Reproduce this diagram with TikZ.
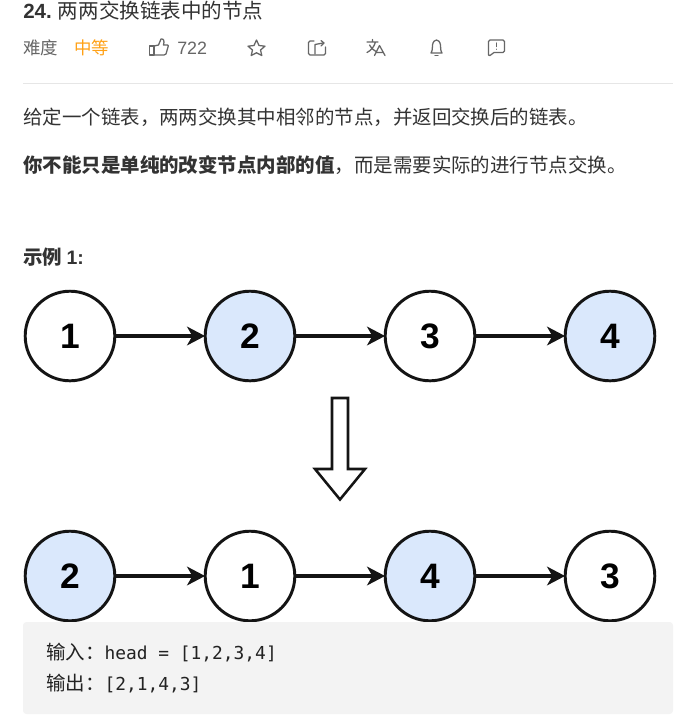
\documentclass[tikz,border=0pt]{standalone}
\usepackage{fontspec}
\setmainfont{Noto Sans CJK SC}
\newfontfamily\latinface{Liberation Sans}
\newfontfamily\codeface{DejaVu Sans Mono}
\usetikzlibrary{arrows.meta}
\definecolor{ink}{HTML}{333333}
\definecolor{codeink}{HTML}{222222}
\definecolor{muted}{HTML}{666666}
\definecolor{medal}{HTML}{FFA116}
\definecolor{rulegray}{HTML}{E6E6E6}
\definecolor{codebg}{HTML}{F3F3F3}
\definecolor{tint}{HTML}{DAE8FC}
\tikzset{
  x=0.75pt, y=-0.75pt,
  listnode/.style={circle, draw=black!92, line width=2.2pt, minimum size=67.2pt, inner sep=0pt, fill=white,
    font=\latinface\bfseries\fontsize{26.5}{26.5}\selectfont},
  bluenode/.style={listnode, fill=tint},
  link/.style={draw=black!92, line width=2.3pt, -{Stealth[length=13.5pt,width=14pt,inset=4pt]}, shorten >=-1pt},
  para/.style={anchor=west, inner sep=0pt, text=ink, font=\fontsize{14.6}{16}\selectfont},
  meta/.style={anchor=west, inner sep=0pt, text=muted, font=\fontsize{13.1}{14}\selectfont},
  icon/.style={draw=muted, line width=0.95pt, line join=round, line cap=round},
  code/.style={anchor=west, inner sep=0pt, text=codeink, font=\fontsize{14.6}{16}\selectfont}
}
\begin{document}
\begin{tikzpicture}
\useasboundingbox (0,0) rectangle (691,722);
\fill[white] (0,0) rectangle (691,722);

% heading row
\node[para, font=\fontsize{15.4}{18}\selectfont] (title) at (23,10.5) {{\latinface\bfseries 24.} 两两交换链表中的节点};
\node[meta] (level) at (23,48) {难度};
\node[meta, text=medal] (rank) at (74,48) {中等};
\node[meta, font=\latinface\fontsize{13.4}{14}\selectfont] (likes) at (177,48) {722};

% thumb
\draw[icon] (149.5,46) rectangle (154,55);
\draw[icon] (154,46) -- (158.5,45) -- (161,39) .. controls (164,38.5) and (164.5,41) .. (163.5,45)
  -- (167.5,45) .. controls (168.5,45) and (168.5,46) .. (168,47) -- (166,54) .. controls (165.5,55) and (165,55) .. (164,55) -- (154,55);
% star
\draw[icon] (256.5,40) -- (259,45.5) -- (265,46.2) -- (260.5,50) -- (261.8,55.5) -- (256.5,52.8) -- (251.2,55.5) -- (252.5,50) -- (248,46.2) -- (254,45.5) -- cycle;
% share
\draw[icon] (314,41) -- (310,41) .. controls (309,41) and (308.5,41.5) .. (308.5,42.5) -- (308.5,53.5) .. controls (308.5,54.5) and (309,55) .. (310,55) -- (324,55) .. controls (325,55) and (325.5,54.5) .. (325.5,53.5) -- (325.5,47);
\draw[icon] (315,54) -- (315,44.5) -- (323,43);
\draw[icon] (321,40.5) -- (324,43) -- (321,46);
% translate
\draw[icon] (367,42) -- (378,42) (372.5,39.5) -- (372.5,42) (375.5,42) .. controls (374,47) and (371,50.5) .. (367,52.5) (369.5,45) .. controls (371,48) and (373,50) .. (376,51.5);
\draw[icon] (374.5,55.5) -- (379.5,45.5) -- (385,55.5) (376.2,52.5) -- (383.5,52.5);
% bell
\draw[icon] (431,53) .. controls (433,50) and (432,47) .. (432.5,45) .. controls (433,41.5) and (435,40) .. (436.5,40) .. controls (438,40) and (440,41.5) .. (440.5,45) .. controls (441,47) and (440,50) .. (442,53) -- cycle;
\draw[icon] (435,55.5) -- (438,55.5);
% feedback
\draw[icon] (490,40) -- (503,40) .. controls (504,40) and (504.5,40.5) .. (504.5,41.5) -- (504.5,51) .. controls (504.5,52) and (504,52.5) .. (503,52.5) -- (494,52.5) -- (490,55.5) -- (488.5,55) -- (488.5,41.5) .. controls (488.5,40.5) and (489,40) .. (490,40) -- cycle;
\draw[icon] (496.5,43) -- (496.5,46.5) (496.5,49.2) -- (496.5,49.3);

\coordinate (ruleL) at (23,83);
\coordinate (ruleR) at (673,83);
\draw[rulegray, line width=0.75pt] (ruleL) -- (ruleR);

% statement
\node[para] (intro) at (23,117) {给定一个链表，两两交换其中相邻的节点，并返回交换后的链表。};
\node[para] (note) at (23,165) {\textbf{你不能只是单纯的改变节点内部的值}，而是需要实际的进行节点交换。};
\node[para] (sample) at (23,257) {\textbf{示例 {\latinface 1:}}};

% list before the swap
\node[listnode] (a1) at (70,336) {1};
\node[bluenode] (a2) at (250,336) {2};
\node[listnode] (a3) at (430,336) {3};
\node[bluenode] (a4) at (610,336) {4};
\foreach \p/\q in {a1/a2,a2/a3,a3/a4} \draw[link] (\p) -- (\q);

% hollow arrow between the two lists
\draw[draw=black!92, fill=white, line width=1.9pt, miter limit=10]
  (332,398) -- (348,398) -- (348,469) -- (365,469) -- (340,499.5) -- (315,469) -- (332,469) -- cycle;

% list after the swap
\node[bluenode] (b1) at (70,576) {2};
\node[listnode] (b2) at (250,576) {1};
\node[bluenode] (b3) at (430,576) {4};
\node[listnode] (b4) at (610,576) {3};
\foreach \p/\q in {b1/b2,b2/b3,b3/b4} \draw[link] (\p) -- (\q);

% sample input and output
\fill[codebg, rounded corners=2.5pt] (23,622) rectangle (673,714);
\node[code] (input) at (46,653) {输入：{\codeface\fontsize{13.4}{16}\selectfont head = [1,2,3,4]}};
\node[code] (output) at (46,684) {输出：{\codeface\fontsize{13.4}{16}\selectfont [2,1,4,3]}};
\end{tikzpicture}
\end{document}
